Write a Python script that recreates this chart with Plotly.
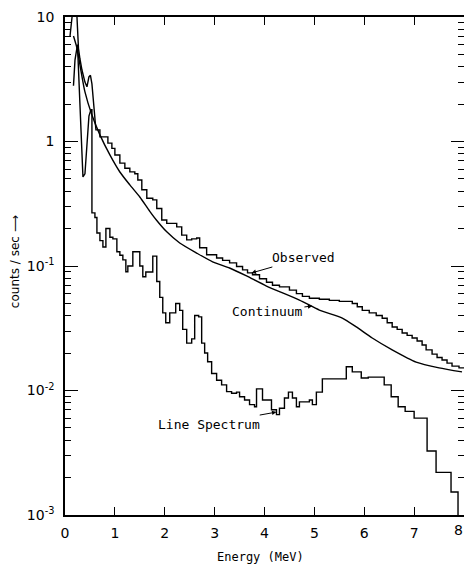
import numpy as np
import plotly.graph_objects as go

# ---------------- data ----------------
# Energy in MeV, rates in counts/sec
obs_low_E = [0.10, 0.14, 0.18, 0.24, 0.27, 0.30, 0.34, 0.40, 0.44, 0.48, 0.51, 0.54, 0.58]
obs_low_v = [7.0, 10.5, 14.0, 10.0, 5.6, 4.6, 3.75, 3.0, 2.75, 3.3, 3.4, 2.9, 1.8]

obs_bin_E = [0.62, 0.70, 0.86, 0.94, 1.00, 1.10, 1.20, 1.30, 1.40, 1.46, 1.54, 1.64, 1.76, 1.84,
             1.94, 2.04, 2.24, 2.34, 2.44, 2.54, 2.64, 2.70, 2.84, 3.04, 3.16, 3.30, 3.44, 3.56,
             3.66, 3.76, 3.90, 4.04, 4.16, 4.30, 4.50, 4.64, 4.76, 4.90, 5.10, 5.30, 5.50, 5.76,
             5.86, 5.96, 6.10, 6.24, 6.36, 6.46, 6.56, 6.66, 6.76, 6.86, 6.96, 7.06, 7.16, 7.24,
             7.36, 7.46, 7.56, 7.66, 7.76, 7.90]
obs_bin_v = [1.24, 1.09, 0.97, 0.88, 0.78, 0.67, 0.61, 0.57, 0.55, 0.49, 0.41, 0.35, 0.34, 0.29,
             0.234, 0.22, 0.206, 0.177, 0.162, 0.165, 0.168, 0.14, 0.123, 0.116, 0.111, 0.106, 0.099, 0.093,
             0.088, 0.085, 0.079, 0.074, 0.070, 0.068, 0.064, 0.060, 0.057, 0.055, 0.054, 0.053, 0.052, 0.050,
             0.047, 0.044, 0.042, 0.040, 0.038, 0.035, 0.0324, 0.031, 0.029, 0.0277, 0.0264, 0.025, 0.0232, 0.0212,
             0.0196, 0.0184, 0.0176, 0.0166, 0.0157, 0.0152]

cont_E = [0.17, 0.24, 0.30, 0.40, 0.54, 0.70, 0.90, 1.10, 1.30, 1.50, 1.70, 1.84, 2.04, 2.30,
          2.64, 2.96, 3.30, 3.64, 4.04, 4.70, 5.10, 5.56, 5.84, 6.16, 6.56, 7.04, 7.50, 7.96]
cont_v = [7.04, 5.64, 4.12, 2.50, 1.63, 1.13, 0.78, 0.569, 0.448, 0.358, 0.275, 0.232, 0.188, 0.153,
          0.127, 0.108, 0.0964, 0.0832, 0.069, 0.0533, 0.0443, 0.0382, 0.0324, 0.0264, 0.0212, 0.0169, 0.0152, 0.0141]

line_low_E = [0.17, 0.20, 0.25, 0.28, 0.32, 0.36, 0.40, 0.44, 0.48, 0.52, 0.54]
line_low_v = [2.8, 4.5, 6.0, 3.0, 1.0, 0.52, 0.55, 0.9, 1.6, 1.8, 1.8]

line_bin_E = [0.54, 0.60, 0.64, 0.70, 0.76, 0.82, 0.90, 0.96, 1.04, 1.10, 1.16, 1.22, 1.26, 1.36,
              1.50, 1.56, 1.62, 1.76, 1.84, 1.90, 1.96, 2.02, 2.10, 2.22, 2.30, 2.36, 2.44, 2.54,
              2.60, 2.68, 2.74, 2.80, 2.86, 2.94, 3.04, 3.14, 3.24, 3.34, 3.44, 3.50, 3.60, 3.70,
              3.80, 3.84, 3.96, 4.14, 4.24, 4.30, 4.40, 4.48, 4.56, 4.64, 4.70, 4.90, 4.96, 5.04,
              5.16, 5.64, 5.76, 5.94, 6.08, 6.40, 6.54, 6.68, 6.82, 7.00, 7.26, 7.44, 7.74, 7.88]
line_bin_v = [0.267, 0.245, 0.184, 0.16, 0.142, 0.20, 0.17, 0.165, 0.13, 0.122, 0.112, 0.09, 0.10, 0.13,
              0.10, 0.082, 0.0895, 0.12, 0.075, 0.056, 0.042, 0.035, 0.042, 0.050, 0.044, 0.031, 0.024, 0.026,
              0.040, 0.039, 0.024, 0.020, 0.017, 0.0137, 0.0121, 0.0111, 0.0098, 0.0095, 0.0097, 0.0089, 0.0084, 0.0077,
              0.0074, 0.0103, 0.0084, 0.0070, 0.0064, 0.0072, 0.0087, 0.0097, 0.0087, 0.0074, 0.0081, 0.0084, 0.0077, 0.0097,
              0.0124, 0.0155, 0.0141, 0.0126, 0.0128, 0.0111, 0.0089, 0.0074, 0.0068, 0.0060, 0.00327, 0.0022, 0.00153, 0.0006]
E_max = 8.0

x_ticks = [0, 1, 2, 3, 4, 5, 6, 7, 8]
y_ticks = [1e-3, 1e-2, 1e-1, 1, 10]
y_ticktext = ["10<sup>-3</sup>", "10<sup>-2</sup>", "10<sup>-1</sup>", "1", "10"]
decades = [1e-3, 1e-2, 1e-1, 1]


def steps(starts, vals, end):
    edges = list(starts) + [end]
    xs, ys = [], []
    for i, v in enumerate(vals):
        xs += [edges[i], edges[i + 1]]
        ys += [v, v]
    return xs, ys


ox, oy = steps(obs_bin_E, obs_bin_v, E_max)
lx, ly = steps(line_bin_E, line_bin_v, E_max)

LW = 1.4
fig = go.Figure()
fig.add_trace(go.Scatter(x=obs_low_E + ox, y=obs_low_v + oy, mode="lines",
                         line=dict(color="black", width=LW), name="Observed"))
fig.add_trace(go.Scatter(x=cont_E, y=cont_v, mode="lines", line_shape="spline",
                         line=dict(color="black", width=LW, smoothing=0.6), name="Continuum"))
fig.add_trace(go.Scatter(x=line_low_E + lx, y=line_low_v + ly, mode="lines",
                         line=dict(color="black", width=LW), name="Line Spectrum"))

minor_vals = [d * k for d in decades for k in range(2, 10)]

fig.update_layout(
    width=464, height=565,
    margin=dict(l=65, r=0, t=17, b=50, autoexpand=False),
    paper_bgcolor="white", plot_bgcolor="white",
    showlegend=False,
    font=dict(family="DejaVu Sans", color="black"),
    xaxis=dict(range=[0, E_max], tickvals=x_ticks, ticks="inside", ticklen=8, tickwidth=1.3,
               tickcolor="black", showline=True, linecolor="black", linewidth=1.5,
               mirror="allticks", showgrid=False, zeroline=False, automargin=False,
               tickfont=dict(size=14, family="DejaVu Sans"), ticklabelstandoff=4),
    yaxis=dict(type="log", range=[-3, 1], tickvals=y_ticks, ticktext=y_ticktext,
               ticks="inside", ticklen=13, tickwidth=1.3, tickcolor="black",
               showline=True, linecolor="black", linewidth=1.5, mirror="allticks",
               showgrid=False, zeroline=False, automargin=False,
               minor=dict(ticks="inside", ticklen=6, tickwidth=1, tickcolor="black",
                          tickvals=minor_vals, showgrid=False),
               tickfont=dict(size=14, family="DejaVu Sans"), ticklabelstandoff=6),
)

mono = dict(family="DejaVu Sans Mono", size=13, color="black")
arrow = dict(showarrow=True, arrowhead=2, arrowsize=0.9, arrowwidth=1, arrowcolor="black",
             xref="x", yref="y", font=mono)
fig.add_annotation(x=3.74, y=np.log10(0.0879), ax=52, ay=-15, text="Observed", **arrow)
fig.add_annotation(x=4.96, y=np.log10(0.0478), ax=-45, ay=6, text="Continuum", **arrow)
fig.add_annotation(x=4.24, y=np.log10(0.00671), ax=-67, ay=12, text="Line Spectrum", **arrow)

# the "8" tick label at the right edge
fig.add_annotation(x=1.0, y=-0.03, xref="paper", yref="paper", showarrow=False,
                   xanchor="right", yanchor="middle", xshift=1, text=str(x_ticks[-1]),
                   font=dict(size=14, family="DejaVu Sans", color="black"))

fig.add_annotation(x=0.491, y=-0.084, xref="paper", yref="paper", showarrow=False,
                   xanchor="center", yanchor="middle",
                   text="Energy (MeV)", font=dict(family="DejaVu Sans Mono", size=12, color="black"))
fig.add_annotation(x=-0.125, y=0.508, xref="paper", yref="paper", showarrow=False, textangle=-90,
                   xanchor="center", yanchor="middle",
                   text="counts / sec ⟶", font=dict(family="DejaVu Sans", size=12, color="black"))

fig.write_html("out.html", config={"displayModeBar": False},
               post_script="document.body.style.margin='0';document.body.style.overflow='hidden';")
